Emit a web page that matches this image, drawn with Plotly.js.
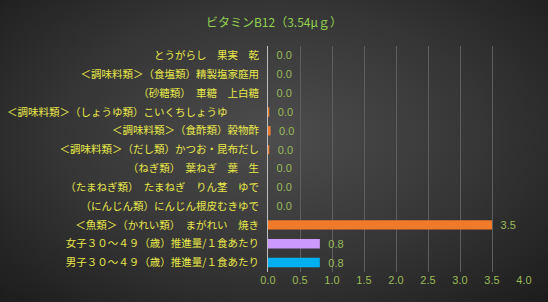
<!DOCTYPE html>
<html>
<head>
<meta charset="utf-8">
<script src="https://cdn.plot.ly/plotly-3.0.1.min.js"></script>
<style>
  html, body { margin: 0; padding: 0; }
  body { width: 548px; height: 302px; overflow: hidden;
         background: radial-gradient(ellipse at 50% 45%, #4d4d4d 0%, #353535 55%, #1c1c1c 100%); }
  #chart { width: 548px; height: 302px; }
</style>
</head>
<body>
<div id="chart"></div>
<script>
// Categories, top to bottom
const categories = [
  "とうがらし　果実　乾",
  "＜調味料類＞（食塩類）精製塩家庭用",
  "（砂糖類）　車糖　上白糖",
  "＜調味料類＞（しょうゆ類）こいくちしょうゆ　　　",
  "＜調味料類＞（食酢類）穀物酢",
  "＜調味料類＞（だし類）かつお・昆布だし",
  "（ねぎ類）　葉ねぎ　葉　生",
  "（たまねぎ類）　たまねぎ　りん茎　ゆで",
  "（にんじん類）にんじん根皮むきゆで",
  "＜魚類＞（かれい類）　まがれい　焼き",
  "女子３０～４９（歳）推進量/１食あたり",
  "男子３０～４９（歳）推進量/１食あたり"
];
const values = [0.0, 0.0, 0.0, 0.02, 0.04, 0.02, 0.0, 0.0, 0.0, 3.5, 0.81, 0.81];
const barColors = ["#ED7D31","#ED7D31","#ED7D31","#ED7D31","#ED7D31","#ED7D31",
                   "#ED7D31","#ED7D31","#ED7D31","#F07A2A","#CC99FF","#00B0F0"];
const xTicks = [0, 0.5, 1.0, 1.5, 2.0, 2.5, 3.0, 3.5, 4.0];
const titleText = "ビタミンB12（3.54μｇ）";

const jp = '"Noto Sans CJK JP", "Noto Sans", sans-serif';

Plotly.newPlot('chart', [{
  type: 'bar',
  orientation: 'h',
  x: values,
  y: categories,
  marker: { color: barColors },
  text: values.map(v => '\u2002' + v.toFixed(1)),
  textposition: 'outside',
  constraintext: 'none',
  cliponaxis: false,
  textfont: { color: '#9BBB59', size: 11, family: '"Liberation Sans", sans-serif' },
  hoverinfo: 'none'
}], {
  width: 548, height: 302,
  paper_bgcolor: 'rgba(0,0,0,0)',
  plot_bgcolor: 'rgba(0,0,0,0)',
  margin: { l: 268, r: 24, t: 46, b: 30 },
  bargap: 0.5,
  showlegend: false,
  uniformtext: { mode: false },
  title: { text: titleText, x: 0.5, xanchor: 'center', y: 0.925, yanchor: 'middle',
           font: { color: '#92D050', size: 12, family: jp } },
  xaxis: {
    range: [0, 4], tickvals: xTicks, ticktext: xTicks.map(v => v.toFixed(1)),
    showgrid: true, gridcolor: '#5e5e5e', gridwidth: 1,
    zeroline: false, showline: false, ticks: '',
    tickfont: { color: '#9BBB59', size: 11, family: '"Liberation Sans", sans-serif' },
    automargin: false, fixedrange: true
  },
  yaxis: {
    autorange: 'reversed', type: 'category',
    showline: true, linecolor: '#BFBFBF', linewidth: 1,
    showgrid: false, zeroline: false,
    ticks: 'outside', ticklen: 6, tickcolor: 'rgba(0,0,0,0)',
    tickfont: { color: '#E8E84A', size: 10.5, family: jp },
    automargin: false, fixedrange: true
  }
}, { staticPlot: true });
</script>
</body>
</html>
